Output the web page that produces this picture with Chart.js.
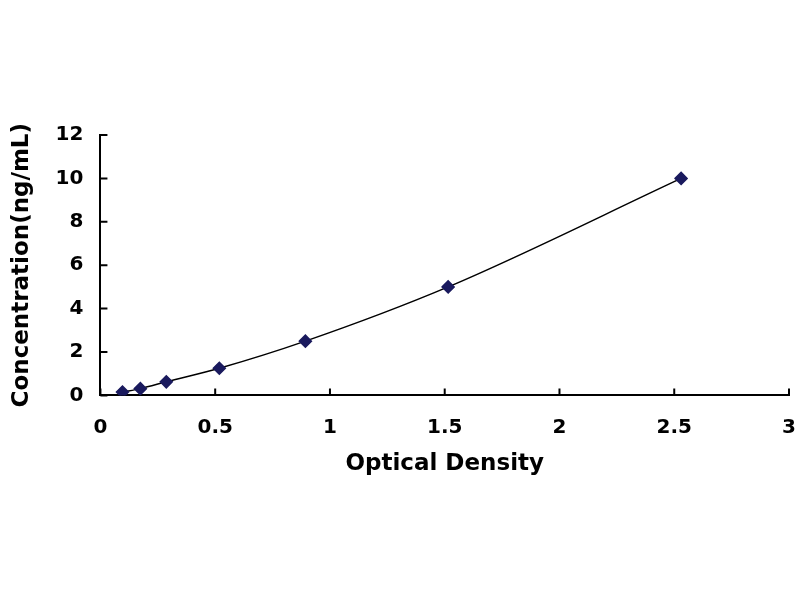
<!DOCTYPE html>
<html>
<head>
<meta charset="utf-8">
<script src="https://cdn.jsdelivr.net/npm/chart.js@4/dist/chart.umd.min.js"></script>
<style>
  body { margin: 0; background: #fff; }
</style>
</head>
<body>
<canvas id="curve" width="800" height="600"></canvas>
<script>
// standard curve readings
const opticalDensity = [0.096, 0.174, 0.287, 0.518, 0.893, 1.515, 2.53];
const concentration = [0.156, 0.312, 0.625, 1.25, 2.5, 5, 10];
const xTicks = [0, 0.5, 1, 1.5, 2, 2.5, 3];
const yTicks = [0, 2, 4, 6, 8, 10, 12];

// small inward tick marks, like the original spreadsheet plot
const innerTicks = {
  id: "innerTicks",
  afterDraw(chart) {
    const ctx = chart.ctx;
    const area = chart.chartArea;
    const xs = chart.scales.x, ys = chart.scales.y;
    ctx.save();
    ctx.strokeStyle = "#000";
    ctx.lineWidth = 2;
    ctx.beginPath();
    xTicks.forEach(v => {
      const px = xs.getPixelForValue(v);
      ctx.moveTo(px, area.bottom);
      ctx.lineTo(px, area.bottom - 7);
    });
    yTicks.forEach(v => {
      const py = ys.getPixelForValue(v);
      ctx.moveTo(area.left, py);
      ctx.lineTo(area.left + 7, py);
    });
    ctx.stroke();
    ctx.restore();
  }
};

const fam = "'DejaVu Sans', 'Liberation Sans', sans-serif";
const tickFont = { family: fam, size: 20, weight: "bold" };
const titleFont = { family: fam, size: 23, weight: "bold" };

new Chart(document.getElementById("curve"), {
  type: "line",
  data: {
    datasets: [{
      data: opticalDensity.map((x, i) => ({ x: x, y: concentration[i] })),
      borderColor: "#000",
      borderWidth: 1.5,
      cubicInterpolationMode: "monotone",
      pointStyle: "rectRot",
      pointRadius: 6,
      pointBackgroundColor: "#1a1a5e",
      pointBorderColor: "#1a1a5e",
      fill: false
    }]
  },
  options: {
    responsive: false,
    animation: false,
    layout: { padding: { left: 4, top: 135, right: 11, bottom: 118 } },
    plugins: { legend: { display: false }, tooltip: { enabled: false } },
    scales: {
      x: {
        type: "linear",
        min: 0, max: 3,
        afterBuildTicks: s => { s.ticks = xTicks.map(v => ({ value: v })); },
        afterFit: s => { s.paddingLeft = 0; s.paddingRight = 0; },
        grid: { display: false, drawTicks: false },
        border: { color: "#000", width: 2 },
        ticks: { color: "#000", font: tickFont, padding: 20, callback: v => String(v) },
        title: { display: true, text: "Optical Density", color: "#000", font: titleFont, padding: { top: -9, bottom: 4 } }
      },
      y: {
        type: "linear",
        min: 0, max: 12,
        afterBuildTicks: s => { s.ticks = yTicks.map(v => ({ value: v })); },
        grid: { display: false, drawTicks: false },
        border: { color: "#000", width: 2 },
        ticks: { color: "#000", font: tickFont, padding: 17, callback: v => String(v) },
        title: { display: true, text: "Concentration(ng/mL)", color: "#000", font: titleFont, padding: { top: 4, bottom: 3 } }
      }
    }
  },
  plugins: [innerTicks]
});
</script>
</body>
</html>
